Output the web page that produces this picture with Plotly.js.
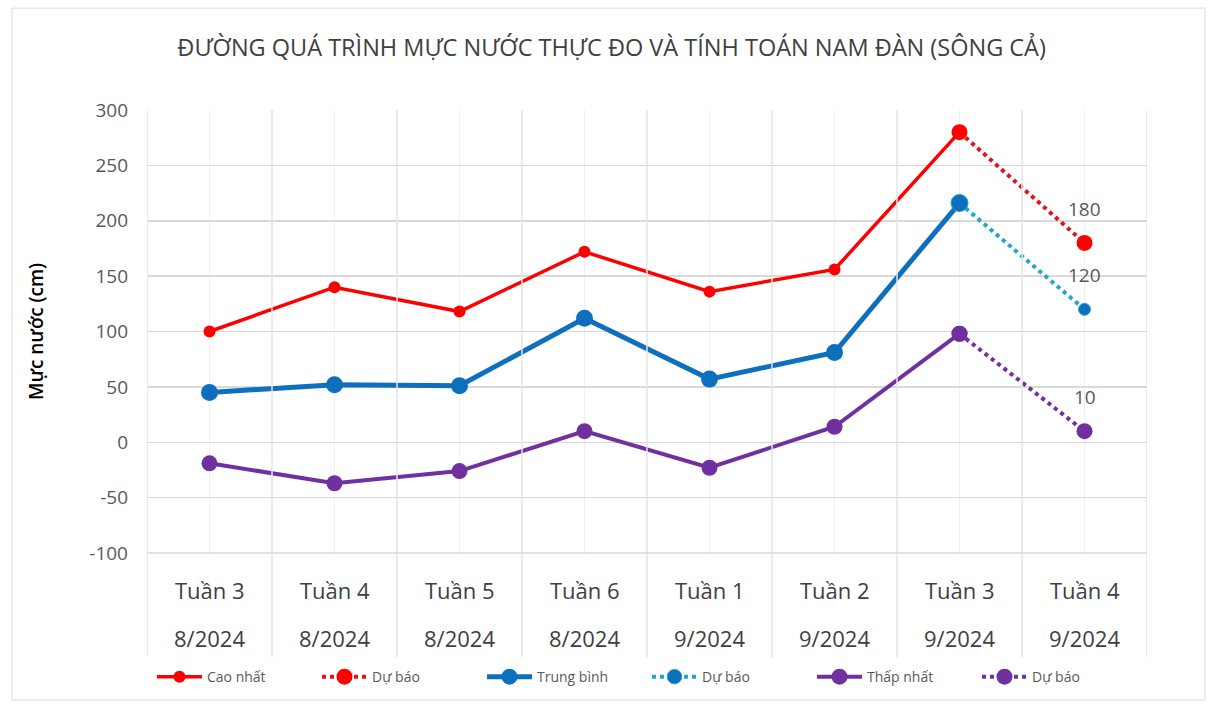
<!DOCTYPE html>
<html>
<head>
<meta charset="utf-8">
<script src="https://cdn.plot.ly/plotly-3.0.1.min.js"></script>
<style>html,body{margin:0;padding:0;background:#fff;}#chart{width:1216px;height:707px;}</style>
</head>
<body>
<div id="chart"></div>
<script>
const weeks = ["Tuần 3","Tuần 4","Tuần 5","Tuần 6","Tuần 1","Tuần 2","Tuần 3","Tuần 4"];
const months = ["8/2024","8/2024","8/2024","8/2024","9/2024","9/2024","9/2024","9/2024"];
const caoNhat = [100, 140, 118, 172, 136, 156, 280];
const trungBinh = [45, 52, 51, 112, 57, 81, 216];
const thapNhat = [-19, -37, -26, 10, -23, 14, 98];
const duBaoCao = [280, 180];
const duBaoTB = [216, 120];
const duBaoThap = [98, 10];
const yTicks = [-100, -50, 0, 50, 100, 150, 200, 250, 300];

const FONT = "Open Sans, sans-serif";
const idx = weeks.map((_, i) => i);
const actX = caoNhat.map((_, i) => i);
const fcX = [weeks.length - 2, weeks.length - 1];

const RED = "#FF0000", BLUE = "#0F6FBF", CYAN = "#22A7C9", PURPLE = "#7030A0";

const traces = [
  {x: actX, y: caoNhat, name: "Cao nhất", mode: "lines+markers",
   line: {color: RED, width: 3.5}, marker: {color: RED, size: 12, opacity: 1}},
  {x: fcX, y: duBaoCao, name: "Dự báo", mode: "lines+markers",
   line: {color: "#E0141E", width: 4, dash: "dot"}, marker: {color: RED, size: 16, opacity: 1}},
  {x: actX, y: trungBinh, name: "Trung bình", mode: "lines+markers",
   line: {color: BLUE, width: 5}, marker: {color: BLUE, size: 17, opacity: 1}},
  {x: fcX, y: duBaoTB, name: "Dự báo", mode: "lines+markers",
   line: {color: CYAN, width: 4, dash: "dot"}, marker: {color: BLUE, size: [17, 12], opacity: 1}},
  {x: actX, y: thapNhat, name: "Thấp nhất", mode: "lines+markers",
   line: {color: PURPLE, width: 4}, marker: {color: PURPLE, size: 16, opacity: 1}},
  {x: fcX, y: duBaoThap, name: "Dự báo", mode: "lines+markers",
   line: {color: PURPLE, width: 4, dash: "dot"}, marker: {color: PURPLE, size: 16, opacity: 1}}
];

const annotations = [];
weeks.forEach((w, i) => {
  annotations.push({x: i, y: -0.083, xref: "x", yref: "paper", text: w, showarrow: false,
    font: {family: FONT, size: 22, color: "#404040"}, yanchor: "middle"});
  annotations.push({x: i, y: -0.192, xref: "x", yref: "paper", text: months[i], showarrow: false,
    font: {family: FONT, size: 22, color: "#404040"}, yanchor: "middle"});
});
[duBaoCao, duBaoTB, duBaoThap].forEach(s => {
  annotations.push({x: fcX[1], y: s[1], xref: "x", yref: "y", text: String(s[1]), showarrow: false,
    yshift: 34, font: {family: FONT, size: 19, color: "#595959"}});
});

const shapes = [];
for (let i = 0; i <= weeks.length; i++) {
  shapes.push({type: "line", xref: "x", yref: "paper", x0: i - 0.5, x1: i - 0.5, y0: -0.235, y1: 1,
    line: {color: "#E4E4E4", width: 1.5}});
}
shapes.push({type: "line", xref: "paper", yref: "paper", x0: 0, x1: 1, y0: 0, y1: 0,
  line: {color: "#D9D9D9", width: 1.5}});
shapes.push({type: "rect", xref: "paper", yref: "paper", x0: -0.135, x1: 1.058, y0: -0.332, y1: 1.23,
  line: {color: "#D9D9D9", width: 1}});

const layout = {
  width: 1216, height: 707,
  margin: {l: 147, r: 69, t: 110, b: 154, autoexpand: false},
  paper_bgcolor: "#fff", plot_bgcolor: "#fff",
  title: {text: "ĐƯỜNG QUÁ TRÌNH MỰC NƯỚC THỰC ĐO VÀ TÍNH TOÁN NAM ĐÀN (SÔNG CẢ)",
    font: {family: FONT, size: 23.5, color: "#404040"}, x: 0.503, xanchor: "center", y: 0.932, yanchor: "middle"},
  xaxis: {range: [-0.5, weeks.length - 0.5], tickvals: idx, showticklabels: false,
    showgrid: true, gridcolor: "#F0F0F0", gridwidth: 1, zeroline: false, ticks: "", fixedrange: true},
  yaxis: {range: [-100, 300], tickvals: yTicks, ticktext: yTicks.map(String),
    showgrid: true, gridcolor: "#D9D9D9", gridwidth: 1.5, zeroline: false,
    showline: false, ticks: "", ticklabelstandoff: 18,
    tickfont: {family: FONT, size: 19, color: "#595959"},
    title: {text: "Mực nước (cm)", font: {family: FONT, size: 19, color: "#000", weight: 600}, standoff: 40}},
  showlegend: true,
  legend: {orientation: "h", x: 0.5, xanchor: "center", y: -0.28, yanchor: "middle",
    font: {family: FONT, size: 14, color: "#595959"}, entrywidth: 105, entrywidthmode: "pixels",
    itemwidth: 45, traceorder: "normal"},
  annotations: annotations,
  shapes: shapes
};

Plotly.newPlot("chart", traces, layout, {displayModeBar: false, staticPlot: true});
</script>
</body>
</html>
